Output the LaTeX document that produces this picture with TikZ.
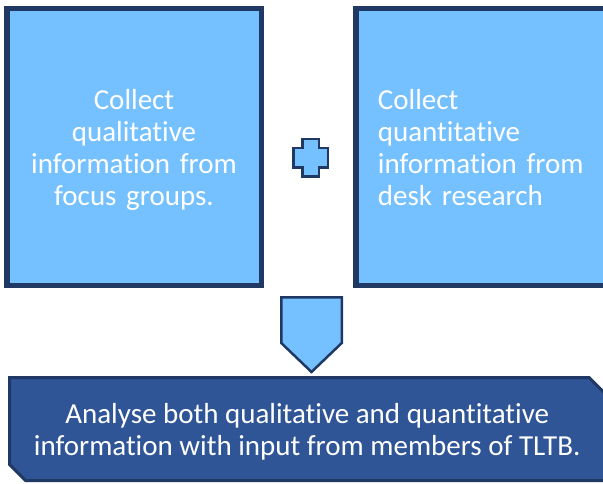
\documentclass[tikz,border=0pt]{standalone}
\usepackage{fontspec}
\setmainfont{Carlito}[Ligatures=NoCommon]
\usetikzlibrary{shapes.misc}
\definecolor{boxblue}{RGB}{117,193,255}
\definecolor{darknavy}{RGB}{32,56,100}
\definecolor{stepblue}{RGB}{47,85,151}

\begin{document}
\begin{tikzpicture}[
    x=1pt, y=-1pt,
    collect/.style={rectangle, draw=darknavy, line width=5.5pt, fill=boxblue, text=white, minimum height=276.5pt, outer sep=0pt, text depth=95pt, font=\fontsize{29}{32}\selectfont},
    analyse/.style={chamfered rectangle, chamfered rectangle corners={north east, south west}, chamfered rectangle xsep=8pt, chamfered rectangle ysep=8pt, draw=darknavy, line width=3pt, fill=stepblue, text=white, minimum width=595.5pt, minimum height=103pt, align=center, text depth=-6pt, font=\fontsize{29}{32}\selectfont},
    sign/.style={draw=darknavy, line width=2.5pt, fill=boxblue, line join=miter}
]
    \useasboundingbox (0,0) rectangle (603,484);
    \clip (0,0) rectangle (603,484);

    % the two collection steps
    \node[collect, minimum width=254.5pt, text width=240pt, align=center] (qual) at (134,147)
        {Collect\\qualitative\\information from\\focus groups.};
    \node[collect, minimum width=284pt, text width=240pt, inner xsep=22pt, align=left] (quant) at (497.9,147)
        {Collect\\quantitative\\information from\\desk research};

    % plus sign between them
    \draw[sign] (302.25,139.25) -- (318.75,139.25) -- (318.75,148.25) -- (327.75,148.25)
        -- (327.75,167.75) -- (318.75,167.75) -- (318.75,176.75) -- (302.25,176.75)
        -- (302.25,167.75) -- (293.25,167.75) -- (293.25,148.25) -- (302.25,148.25) -- cycle;

    % down pointer
    \draw[sign] (281.25,297.25) -- (341.75,297.25) -- (341.75,343) -- (311.5,372)
        -- (281.25,343) -- cycle;

    % analysis step
    \node[analyse] (both) at (307.25,429)
        {Analyse both qualitative and quantitative\\information with input from members of TLTB.};
\end{tikzpicture}
\end{document}
